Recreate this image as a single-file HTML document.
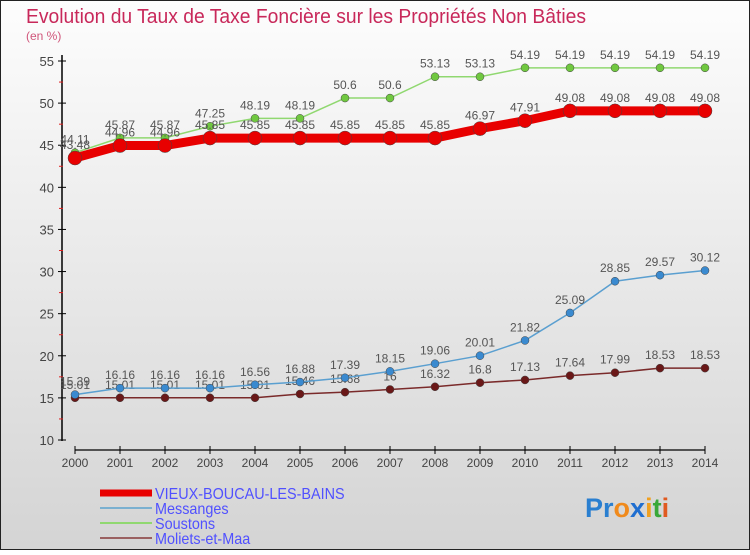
<!DOCTYPE html>
<html><head><meta charset="utf-8"><style>
body{margin:0;width:750px;height:550px;overflow:hidden;font-family:"Liberation Sans",sans-serif}
</style></head><body>
<svg id="c" width="750" height="550" xmlns="http://www.w3.org/2000/svg">
<defs><linearGradient id="bg" x1="0" y1="0" x2="0" y2="1"><stop offset="0" stop-color="#fdfdfd"/><stop offset="1" stop-color="#d4d4d4"/></linearGradient></defs>
<rect x="0.5" y="0.5" width="749" height="549" fill="url(#bg)" stroke="#222"/>
<text x="26" y="23" font-size="20" fill="#c8285a" textLength="560" lengthAdjust="spacingAndGlyphs">Evolution du Taux de Taxe Foncière sur les Propriétés Non Bâties</text>
<text x="26" y="40" font-size="12" fill="#d0557a">(en %)</text>
<g id="axes"></g><g id="series"></g><g id="legend"></g>
<text x="585" y="517" font-size="27" font-weight="bold"><tspan fill="#2a7fd0">Pr</tspan><tspan fill="#f08a1c">o</tspan><tspan fill="#1f6ed0">x</tspan><tspan fill="#f0a020">i</tspan><tspan fill="#3aa83a">t</tspan><tspan fill="#e05a20">i</tspan></text>
</svg>
<script>
const years=[2000,2001,2002,2003,2004,2005,2006,2007,2008,2009,2010,2011,2012,2013,2014];
const vieux=[43.48,44.96,44.96,45.85,45.85,45.85,45.85,45.85,45.85,46.97,47.91,49.08,49.08,49.08,49.08];
const messanges=[15.39,16.16,16.16,16.16,16.56,16.88,17.39,18.15,19.06,20.01,21.82,25.09,28.85,29.57,30.12];
const soustons=[44.11,45.87,45.87,47.25,48.19,48.19,50.6,50.6,53.13,53.13,54.19,54.19,54.19,54.19,54.19];
const moliets=[15.01,15.01,15.01,15.01,15.01,15.46,15.68,16,16.32,16.8,17.13,17.64,17.99,18.53,18.53];
const yTicks=[10,15,20,25,30,35,40,45,50,55];
const NS="http://www.w3.org/2000/svg";
const X=y=>75+(y-2000)*45, Y=v=>440-(v-10)*(379/45);
function mk(t,a,p){const e=document.createElementNS(NS,t);for(const k in a)e.setAttribute(k,a[k]);p.appendChild(e);return e;}
const ax=document.getElementById('axes');
let l=mk('line',{x1:62,y1:55,x2:62,y2:441,stroke:'#000','stroke-width':1.5},ax);


l=mk('line',{x1:75,y1:450,x2:705,y2:450,stroke:'#000','stroke-width':1.2},ax);


yTicks.forEach(v=>{mk('line',{x1:58,y1:Y(v),x2:66,y2:Y(v),stroke:'#000'},ax);
 if(v<55)mk('line',{x1:59,y1:Y(v+2.5),x2:63,y2:Y(v+2.5),stroke:'#e02020'},ax);
 const t=mk('text',{x:54,y:Y(v)+5,'font-size':13,fill:'#444','text-anchor':'end'},ax);t.textContent=v;
 
 });
years.forEach(y=>{mk('line',{x1:X(y),y1:446,x2:X(y),y2:454,stroke:'#000'},ax);
 const t=mk('text',{x:X(y),y:467,'font-size':12,fill:'#444','text-anchor':'middle'},ax);t.textContent=y;
 
 });
const S=document.getElementById('series');
function series(d,name,col,w,r,dot){
 const g=mk('g',{},S);
 mk('polyline',{points:d.map((v,i)=>X(years[i])+','+Y(v)).join(' '),fill:'none',stroke:col,'stroke-width':w,'stroke-linejoin':'round'},g);
 d.forEach((v,i)=>{const c=mk('circle',{cx:X(years[i]),cy:Y(v),r:r,fill:dot,stroke:'#444','stroke-width':0.5},g);
  
  
  const t=mk('text',{x:X(years[i]),y:Y(v)-9,'font-size':12,fill:'#555','text-anchor':'middle'},g);t.textContent=v;
  
  });
}
series(moliets,'moliets','#7a2a2a',1.5,4,'#6a1818');
series(messanges,'messanges','#5a9fd0',1.5,4,'#3a8ad0');
series(soustons,'soustons','#90d870',1.5,4,'#70c840');
series(vieux,'vieux-boucau','#e80000',9,7,'#e80000');
const L=document.getElementById('legend');
const items=[['VIEUX-BOUCAU-LES-BAINS','#e80000',7],['Messanges','#7ab0d0',2],['Soustons','#90d870',2],['Moliets-et-Maa','#9a6060',2]];
items.forEach((it,i)=>{const y=493+i*15;
 const g=mk('g',{},L);
 mk('line',{x1:100,y1:y,x2:130+22,y2:y,stroke:it[1],'stroke-width':it[2]},g);
 const t=mk('text',{x:155,y:y+6,'font-size':16,fill:'#5050ff',transform:'translate(155 0) scale(0.9 1) translate(-155 0)'},g);t.textContent=it[0];});
</script>
</body></html>
